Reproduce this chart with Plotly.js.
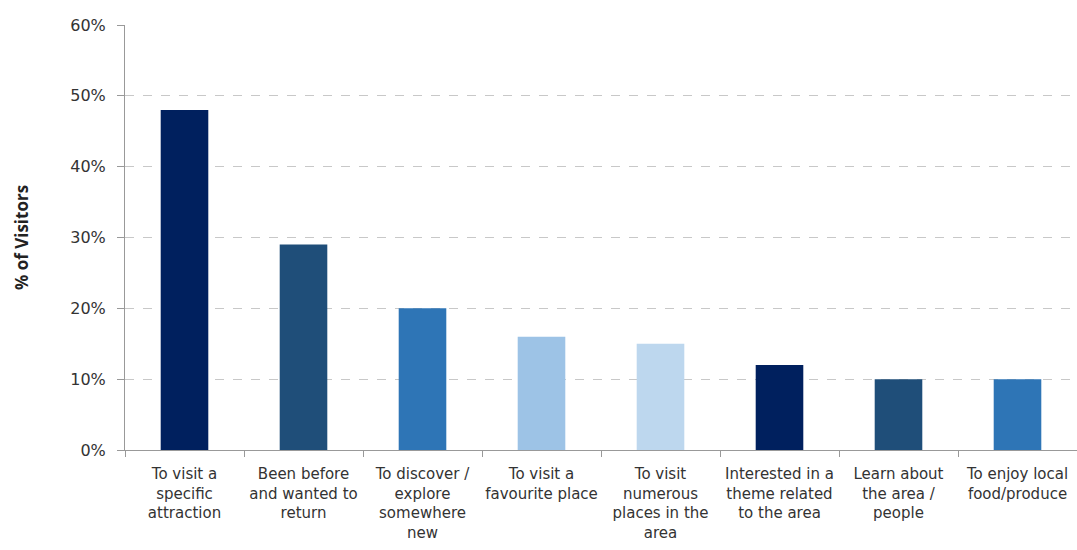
<!DOCTYPE html>
<html>
<head>
<meta charset="utf-8">
<script src="https://cdn.plot.ly/plotly-3.0.1.min.js"></script>
<style>html,body{margin:0;padding:0;background:#fff;}#chart{width:1077px;height:550px;}</style>
</head>
<body>
<div id="chart"></div>
<script>
const categories = [
  "To visit a<br>specific<br>attraction",
  "Been before<br>and wanted to<br>return",
  "To discover /<br>explore<br>somewhere<br>new",
  "To visit a<br>favourite place",
  "To visit<br>numerous<br>places in the<br>area",
  "Interested in a<br>theme related<br>to the area",
  "Learn about<br>the area /<br>people",
  "To enjoy local<br>food/produce"
];
const values = [0.48, 0.29, 0.20, 0.16, 0.15, 0.12, 0.10, 0.10];
const barColors = ["#00205E", "#1F4E79", "#2E75B6", "#9DC3E6", "#BDD7EE", "#00205E", "#1F4E79", "#2E75B6"];
const yTicks = [0, 0.1, 0.2, 0.3, 0.4, 0.5, 0.6];
const yTickText = ["0%", "10%", "20%", "30%", "40%", "50%", "60%"];

const trace = {
  type: "bar",
  x: categories,
  y: values,
  marker: {color: barColors},
  width: 0.4,
  hoverinfo: "x+y"
};

const layout = {
  width: 1077, height: 550,
  margin: {l: 125, r: 0, t: 25, b: 100},
  paper_bgcolor: "#fff", plot_bgcolor: "#fff",
  showlegend: false,
  font: {family: "DejaVu Sans, Verdana, sans-serif", size: 15, color: "#333"},
  xaxis: {
    type: "category",
    showline: true, linecolor: "#999", linewidth: 1,
    ticks: "outside", tickson: "boundaries", ticklen: 6, tickcolor: "#999",
    tickangle: 0,
    ticklabelstandoff: 10,
    tickfont: {family: "DejaVu Sans, Verdana, sans-serif", size: 15, color: "#333"},
    showgrid: false, zeroline: false
  },
  yaxis: {
    range: [0, 0.6],
    tickvals: yTicks, ticktext: yTickText,
    showline: true, linecolor: "#999", linewidth: 1,
    ticks: "outside", ticklen: 7, tickcolor: "#999",
    ticklabelstandoff: 8,
    tickfont: {family: "DejaVu Sans, Verdana, sans-serif", size: 16, color: "#333"},
    showgrid: true, gridcolor: "#c8c8c8", griddash: "dash", gridwidth: 1,
    zeroline: false,
    title: {text: "<b>% of Visitors</b>", font: {family: "Open Sans, sans-serif", size: 17, color: "#222"}, standoff: 37}
  },
  bargap: 0.6
};

Plotly.newPlot("chart", [trace], layout, {displayModeBar: false, staticPlot: true});
</script>
</body>
</html>
